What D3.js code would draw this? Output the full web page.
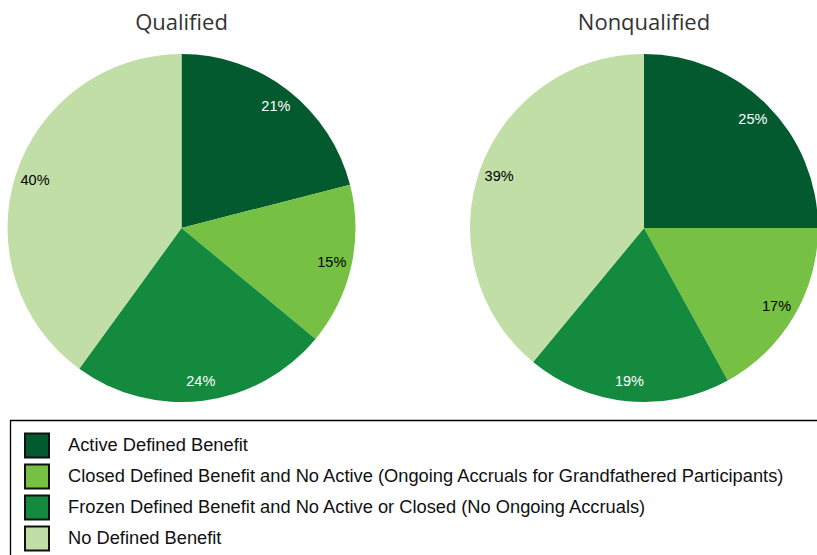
<!DOCTYPE html>
<html><head><meta charset="utf-8">
<script src="https://cdn.jsdelivr.net/npm/d3@7"></script>
<style>html,body{margin:0;padding:0;background:#fff;overflow:hidden}</style>
</head><body>
<svg id="chart" width="817" height="555"></svg>
<script>
const categories = [
  "Active Defined Benefit",
  "Closed Defined Benefit and No Active (Ongoing Accruals for Grandfathered Participants)",
  "Frozen Defined Benefit and No Active or Closed (No Ongoing Accruals)",
  "No Defined Benefit"
];
const qualifiedValues = [21, 15, 24, 40];
const nonqualifiedValues = [25, 17, 19, 39];
const chartTitles = ["Qualified", "Nonqualified"];
const colors = ["#035A2E", "#76C043", "#148A3E", "#C0DEA5"];
const labelColors = ["#ffffff", "#000000", "#ffffff", "#000000"];

const svg = d3.select("#chart");
const R = 174;
const pies = [
  {title: chartTitles[0], values: qualifiedValues, cx: 181.5, cy: 228},
  {title: chartTitles[1], values: nonqualifiedValues, cx: 644, cy: 228}
];
const pie = d3.pie().sort(null).value(d => d);
const arc = d3.arc().innerRadius(0).outerRadius(R);
const labelArc = d3.arc().innerRadius(R * 0.885).outerRadius(R * 0.885);

pies.forEach(p => {
  const g = svg.append("g").attr("transform", `translate(${p.cx},${p.cy})`);
  const arcs = pie(p.values);
  g.selectAll("path").data(arcs).enter().append("path")
    .attr("d", arc).attr("fill", (d, i) => colors[i]);
  g.selectAll("text.lbl").data(arcs).enter().append("text")
    .attr("class", "lbl")
    .attr("transform", d => `translate(${labelArc.centroid(d)})`)
    .attr("text-anchor", "middle").attr("dy", "0.35em")
    .attr("font-family", "Liberation Sans, Arial, sans-serif")
    .attr("font-size", 14.5)
    .attr("fill", (d, i) => labelColors[i])
    .text(d => d.data + "%");
  svg.append("text").attr("x", p.cx).attr("y", 30)
    .attr("text-anchor", "middle")
    .attr("font-family", "Open Sans, sans-serif").attr("font-size", 22)
    .attr("fill", "#333").text(p.title);
});

// legend
const lg = svg.append("g");
lg.append("path").attr("d", "M10.5,555 V420.5 H817")
  .attr("fill", "none").attr("stroke", "#000").attr("stroke-width", 1.3);
const ly = d3.scaleBand().domain(categories).range([431, 555]).paddingInner(0);
categories.forEach((c, i) => {
  const y = ly(c);
  lg.append("rect").attr("x", 25).attr("y", y + 2.5).attr("width", 24).attr("height", 24)
    .attr("fill", colors[i]).attr("stroke", "#111").attr("stroke-width", 2);
  lg.append("text").attr("x", 68).attr("y", y + 20)
    .attr("font-family", "Liberation Sans, Arial, sans-serif").attr("font-size", 18.3)
    .attr("fill", "#111").text(c);
});
</script>
</body></html>
